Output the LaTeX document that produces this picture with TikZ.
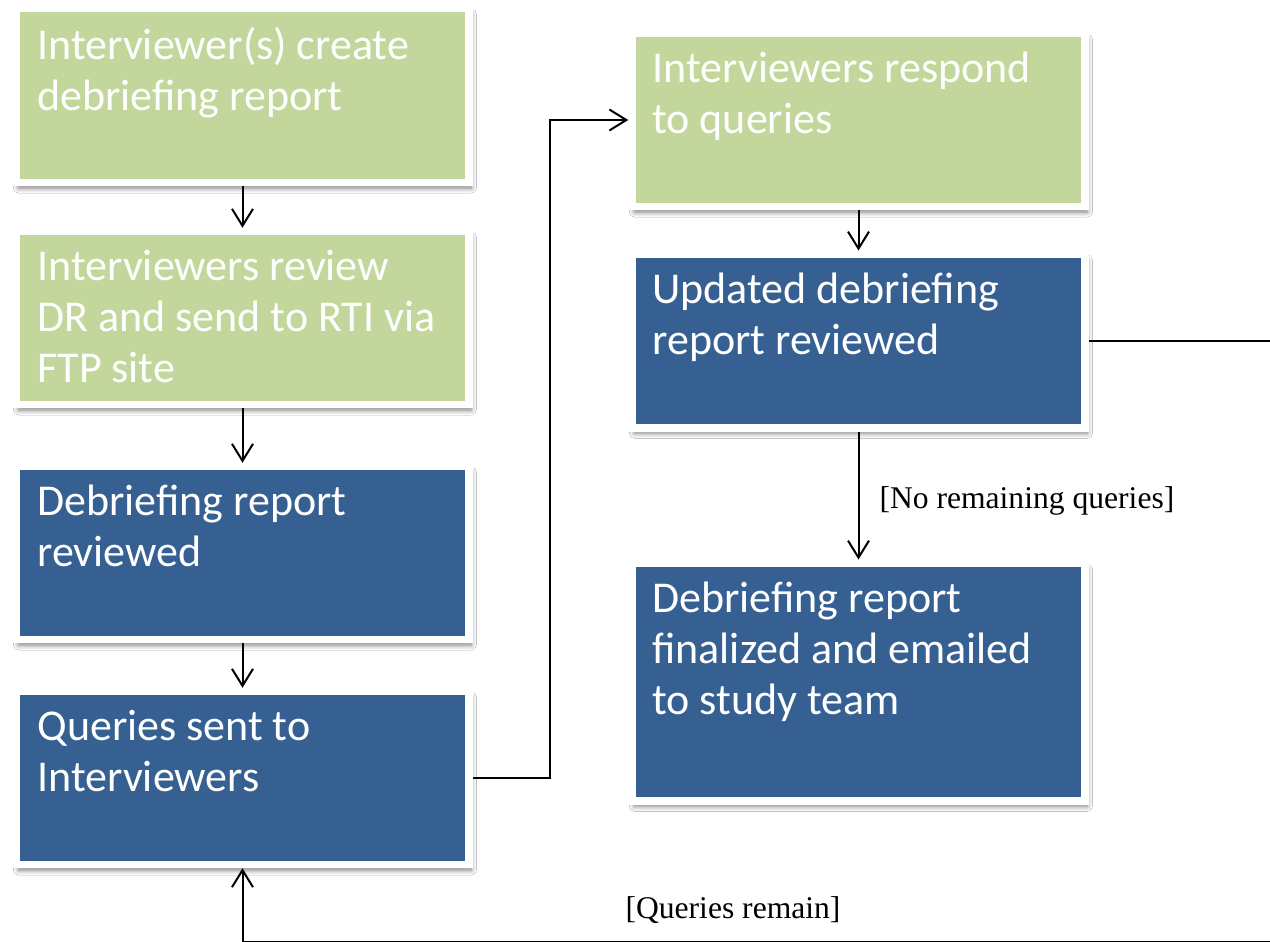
\documentclass[tikz,border=0pt]{standalone}
\usepackage{fontspec}
\setmainfont{Carlito}
\newfontfamily\labfont{Liberation Serif}
\usetikzlibrary{arrows.meta,shadows.blur}
\definecolor{boxgreen}{HTML}{C3D69B}
\definecolor{boxblue}{HTML}{366092}
\newcommand\bt{\spaceskip=0pt\xspaceskip=0pt\relax}
\begin{document}
\begin{tikzpicture}[x=0.5pt,y=-0.5pt,
  box/.style={draw=white,line width=3.75pt,inner sep=0pt,minimum width=226.5pt,
    blur shadow={shadow xshift=1.2pt,shadow yshift=-2.8pt,shadow blur steps=8,shadow blur radius=2.5pt,shadow opacity=50}},
  gbox/.style={box,fill=boxgreen},
  bbox/.style={box,fill=boxblue},
  btext/.style={anchor=north west,inner sep=0pt,text=white,align=left,
    font=\fontsize{22}{25.5}\selectfont,text width=218pt},
  lab/.style={inner sep=0pt,font=\labfont\fontsize{15.8}{18}\selectfont},
  arr/.style={line width=1pt,-{Straight Barb[length=8.5pt,width=10.5pt,line width=1pt]}},
  ln/.style={line width=1pt}]
\useasboundingbox (0,0) rectangle (1270,942);
\clip (0,0) rectangle (1270,942);
\fill[white] (0,0) rectangle (1270,942);
% boxes
\node[gbox,minimum height=87pt] (b1) at (242.5,95.5) {};
\node[gbox,minimum height=86.5pt] (b2) at (242.5,318) {};
\node[bbox,minimum height=86.5pt] (b3) at (242.5,553) {};
\node[bbox,minimum height=86.5pt] (b4) at (242.5,778) {};
\node[gbox,minimum height=86.5pt] (b5) at (858.5,120) {};
\node[bbox,minimum height=86.75pt] (b6) at (858.5,341) {};
\node[bbox,minimum height=118.75pt] (b7) at (858.5,682) {};
% texts
\node[btext] (t1) at (37,27) {\bt Interviewer(s) create\\debriefing report};
\node[btext] (t2) at (37,250) {\bt Interviewers review\\DR and send to RTI via\\FTP site};
\node[btext] (t3) at (37,485) {\bt Debriefing report\\reviewed};
\node[btext] (t4) at (37,710) {\bt Queries sent to\\Interviewers};
\node[btext] (t5) at (652,52) {\bt Interviewers respond\\to queries};
\node[btext] (t6) at (652,273) {\bt Updated debriefing\\report reviewed};
\node[btext] (t7) at (652,582) {\bt Debriefing report\\finalized and emailed\\to study team};
% connectors
\draw[arr] (b1.south) -- (b2.north);
\draw[arr] (b2.south) -- (b3.north);
\draw[arr] (b3.south) -- (b4.north);
\coordinate (k) at (550,0);
\draw[arr] (b4.east) -- (b4.east -| k) |- (b5.west);
\draw[arr] (b5.south) -- (b6.north);
\draw[arr] (b6.south) -- node[lab,anchor=west,xshift=10pt,yshift=-2.5pt] (l1) {[No remaining queries]} (b7.north);
\coordinate (r1) at (1273,341);
\coordinate (r2) at (1273,942.3);
\draw[arr] (b6.east) -- (r1) -- (r2) -- (r2 -| b4.south) -- (b4.south);
\node[lab] (l2) at (733,910) {[Queries remain]};
\end{tikzpicture}
\end{document}
